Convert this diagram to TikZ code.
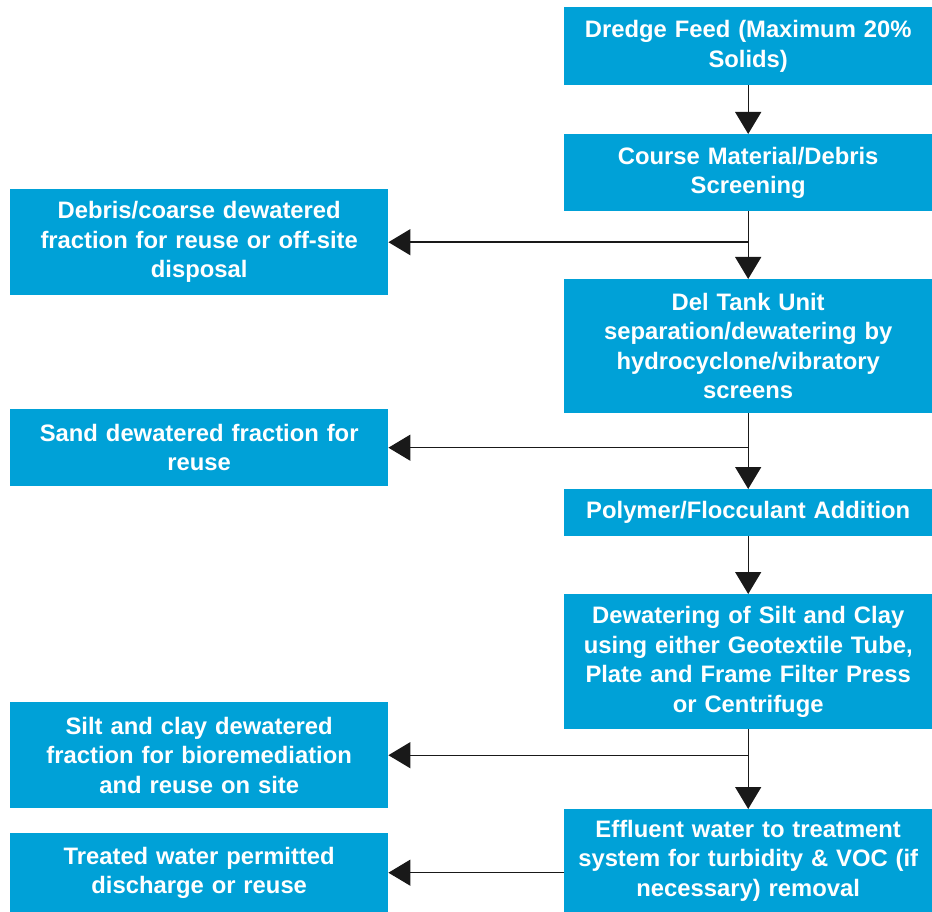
\documentclass[tikz,border=0pt]{standalone}
\usepackage{fontspec}
\setmainfont{Liberation Sans}
\usetikzlibrary{arrows.meta}
\definecolor{boxblue}{RGB}{0,161,215}
\begin{document}
\begin{tikzpicture}[x=1pt,y=-1pt,
  box/.style={fill=boxblue, text=white, font=\bfseries\fontsize{23.8}{29.5}\selectfont,
    align=center, inner sep=0pt, anchor=north west},
  rbox/.style={box, minimum width=368pt, text width=364pt},
  lbox/.style={box, minimum width=378pt, text width=374pt},
  link/.style={line width=1.4pt, draw=black!90},
  flow/.style={link, -{Triangle[width=26pt,length=22pt]}}]
\useasboundingbox (0,0) rectangle (932,912);
% right column
\node[rbox, minimum height=78pt] (b1) at (564,7) {Dredge Feed (Maximum 20\%\\Solids)};
\node[rbox, minimum height=77pt] (b2) at (564,134) {Course Material/Debris\\Screening};
\node[rbox, minimum height=134pt] (b3) at (564,279) {Del Tank Unit\\separation/dewatering by\\hydrocyclone/vibratory\\screens};
\node[rbox, minimum height=47pt] (b4) at (564,489) {Polymer/Flocculant Addition};
\node[rbox, minimum height=135pt] (b5) at (564,594) {Dewatering of Silt and Clay\\using either Geotextile Tube,\\Plate and Frame Filter Press\\or Centrifuge};
\node[rbox, minimum height=103pt] (b6) at (564,809) {Effluent water to treatment\\system for turbidity \& VOC (if\\necessary) removal};
% left column
\node[lbox, minimum height=106pt] (l1) at (10,189) {Debris/coarse dewatered\\fraction for reuse or off-site\\disposal};
\node[lbox, minimum height=77pt] (l2) at (10,409) {Sand dewatered fraction for\\reuse};
\node[lbox, minimum height=106pt] (l3) at (10,702) {Silt and clay dewatered\\fraction for bioremediation\\and reuse on site};
\node[lbox, minimum height=79pt] (l4) at (10,833) {Treated water permitted\\discharge or reuse};
% junctions
\coordinate (j1) at (b2.south |- l1.east);
\coordinate (j2) at (b3.south |- l2.east);
\coordinate (j3) at (b5.south |- l3.east);
% connectors
\draw[flow] (b1.south) -- (b2.north);
\draw[link] (b2.south) -- (j1);
\draw[flow] (j1) -- (l1.east);
\draw[flow] (j1) -- (b3.north);
\draw[link] (b3.south) -- (j2);
\draw[flow] (j2) -- (l2.east);
\draw[flow] (j2) -- (b4.north);
\draw[flow] (b4.south) -- (b5.north);
\draw[link] (b5.south) -- (j3);
\draw[flow] (j3) -- (l3.east);
\draw[flow] (j3) -- (b6.north);
\draw[flow] (b6.west |- l4.east) -- (l4.east);
\end{tikzpicture}
\end{document}
